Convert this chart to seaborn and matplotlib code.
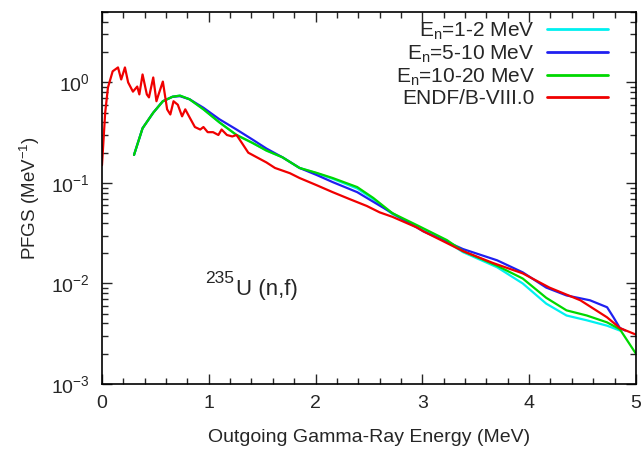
import matplotlib
matplotlib.use("Agg")
import matplotlib.pyplot as plt
import seaborn as sns
import pandas as pd
from matplotlib.ticker import MultipleLocator, LogLocator, NullFormatter

# ---------------- data ----------------
red_x = [0.0, 0.03, 0.056, 0.10, 0.15, 0.18, 0.215, 0.245, 0.29, 0.33, 0.35, 0.38, 0.42, 0.44,
         0.48, 0.51, 0.53, 0.57, 0.61, 0.64, 0.67, 0.71, 0.75, 0.78, 0.82, 0.87, 0.92, 0.95,
         0.99, 1.04, 1.09, 1.12, 1.17, 1.22, 1.26, 1.31, 1.37, 1.45, 1.54, 1.62, 1.76, 1.85,
         2.01, 2.16, 2.32, 2.48, 2.60, 2.72, 2.95, 3.01, 3.38, 3.66, 3.94, 4.19, 4.48, 4.73,
         4.85, 5.0]
red_y = [0.15, 0.5, 0.89, 1.29, 1.41, 1.07, 1.41, 1.0, 0.81, 0.91, 0.76, 1.2, 0.76, 0.71,
         1.12, 0.65, 0.76, 1.02, 0.54, 0.48, 0.65, 0.6, 0.46, 0.54, 0.45, 0.36, 0.34, 0.36,
         0.32, 0.32, 0.30, 0.34, 0.30, 0.29, 0.30, 0.25, 0.20, 0.18, 0.16, 0.141, 0.125, 0.112,
         0.095, 0.081, 0.069, 0.059, 0.051, 0.046, 0.036, 0.033, 0.021, 0.016, 0.0126, 0.0091,
         0.0068, 0.0046, 0.0036, 0.0031]

green_x = [0.30, 0.38, 0.48, 0.57, 0.66, 0.73, 0.82, 0.95, 1.10, 1.26, 1.41, 1.54, 1.69, 1.85,
           2.01, 2.16, 2.39, 2.54, 2.72, 2.95, 3.23, 3.38, 3.70, 3.94, 4.16, 4.35, 4.54, 4.73,
           4.85, 5.0]
green_y = [0.19, 0.35, 0.50, 0.65, 0.72, 0.74, 0.68, 0.54, 0.40, 0.30, 0.25, 0.21, 0.18, 0.141,
           0.126, 0.112, 0.091, 0.071, 0.050, 0.038, 0.027, 0.021, 0.015, 0.0112, 0.0072,
           0.0054, 0.0048, 0.0041, 0.0035, 0.0020]

blue_x = [0.30, 0.38, 0.48, 0.57, 0.66, 0.73, 0.82, 0.95, 1.10, 1.26, 1.41, 1.54, 1.69, 1.85,
          2.01, 2.16, 2.39, 2.54, 2.72, 3.01, 3.38, 3.70, 3.94, 4.16, 4.35, 4.57, 4.73, 4.79,
          4.85, 4.90]
blue_y = [0.19, 0.35, 0.50, 0.65, 0.72, 0.73, 0.68, 0.56, 0.43, 0.34, 0.27, 0.22, 0.18, 0.141,
          0.12, 0.102, 0.081, 0.065, 0.050, 0.033, 0.022, 0.017, 0.0129, 0.0091, 0.0076,
          0.0068, 0.0058, 0.0046, 0.0036, 0.0034]

cyan_x = [0.30, 0.38, 0.48, 0.57, 0.66, 0.73, 0.82, 0.95, 1.10, 1.26, 1.41, 1.54, 1.69, 1.85,
          2.01, 2.16, 2.39, 2.54, 2.72, 2.95, 3.23, 3.38, 3.70, 3.94, 4.16, 4.35, 4.54, 4.73,
          4.85]
cyan_y = [0.19, 0.35, 0.50, 0.65, 0.72, 0.74, 0.68, 0.54, 0.40, 0.30, 0.25, 0.21, 0.18, 0.141,
          0.125, 0.110, 0.088, 0.069, 0.049, 0.037, 0.026, 0.0205, 0.0145, 0.010, 0.0063,
          0.0048, 0.0043, 0.0038, 0.0034]

labels = ["E$_\\mathregular{n}$=1-2 MeV", "E$_\\mathregular{n}$=5-10 MeV",
          "E$_\\mathregular{n}$=10-20 MeV", "ENDF/B-VIII.0"]
colors = ["#00f0f0", "#2020f0", "#00d800", "#f00000"]

# ---------------- plot ----------------
sns.set_style("ticks")
plt.rcParams["font.family"] = ["Liberation Sans", "DejaVu Sans"]
plt.rcParams["mathtext.fontset"] = "custom"
plt.rcParams["mathtext.rm"] = "Liberation Sans"
plt.rcParams["mathtext.it"] = "Liberation Sans:italic"

fig = plt.figure(figsize=(6.43, 4.51), dpi=100)
ax = fig.add_axes([0.1586, 0.1486, 0.989 - 0.1586, 0.973 - 0.1486])

series = [(cyan_x, cyan_y), (blue_x, blue_y), (green_x, green_y), (red_x, red_y)]
for (xs, ys), lab, c in zip(series, labels, colors):
    df = pd.DataFrame({"x": xs, "y": ys})
    sns.lineplot(data=df, x="x", y="y", ax=ax, color=c, lw=1.6, label=lab)

ax.set_yscale("log")
ax.set_xlim(0, 5)
ax.set_ylim(1e-3, 5)
ax.xaxis.set_major_locator(MultipleLocator(1))
ax.xaxis.set_minor_locator(MultipleLocator(0.2))
ax.yaxis.set_major_locator(LogLocator(base=10, numticks=10))
ax.yaxis.set_minor_locator(LogLocator(base=10, subs=range(2, 10), numticks=20))
ax.yaxis.set_minor_formatter(NullFormatter())
ax.tick_params(which="both", direction="in", top=True, right=True, labelsize=14, width=1)
ax.tick_params(which="major", length=7)
ax.tick_params(axis="x", which="major", pad=8)
ax.tick_params(axis="y", which="major", pad=9)
ax.tick_params(which="minor", length=4)
for s in ax.spines.values():
    s.set_linewidth(1.2)
    s.set_color("black")

ax.set_xlabel("Outgoing Gamma-Ray Energy (MeV)", fontsize=14, labelpad=12)
ax.set_ylabel("PFGS (MeV$^{\\mathregular{-1}}$)", fontsize=13.5, labelpad=6)

ax.text(0.964, 0.0102, "235", fontsize=12.5, va="baseline", ha="left")
ax.text(1.255, 0.0076, "U (n,f)", fontsize=16, va="baseline", ha="left")

leg = ax.legend(loc="upper right", bbox_to_anchor=(0.9625, 1.0), borderaxespad=0.0,
                frameon=False, markerfirst=False, fontsize=15, borderpad=0.4,
                handlelength=2.9, labelspacing=0.08, handletextpad=0.6)
for t in leg.get_texts():
    t.set_ha("right")
for h in leg.get_lines():
    h.set_linewidth(2.0)

fig.savefig("out.png", dpi=100)
